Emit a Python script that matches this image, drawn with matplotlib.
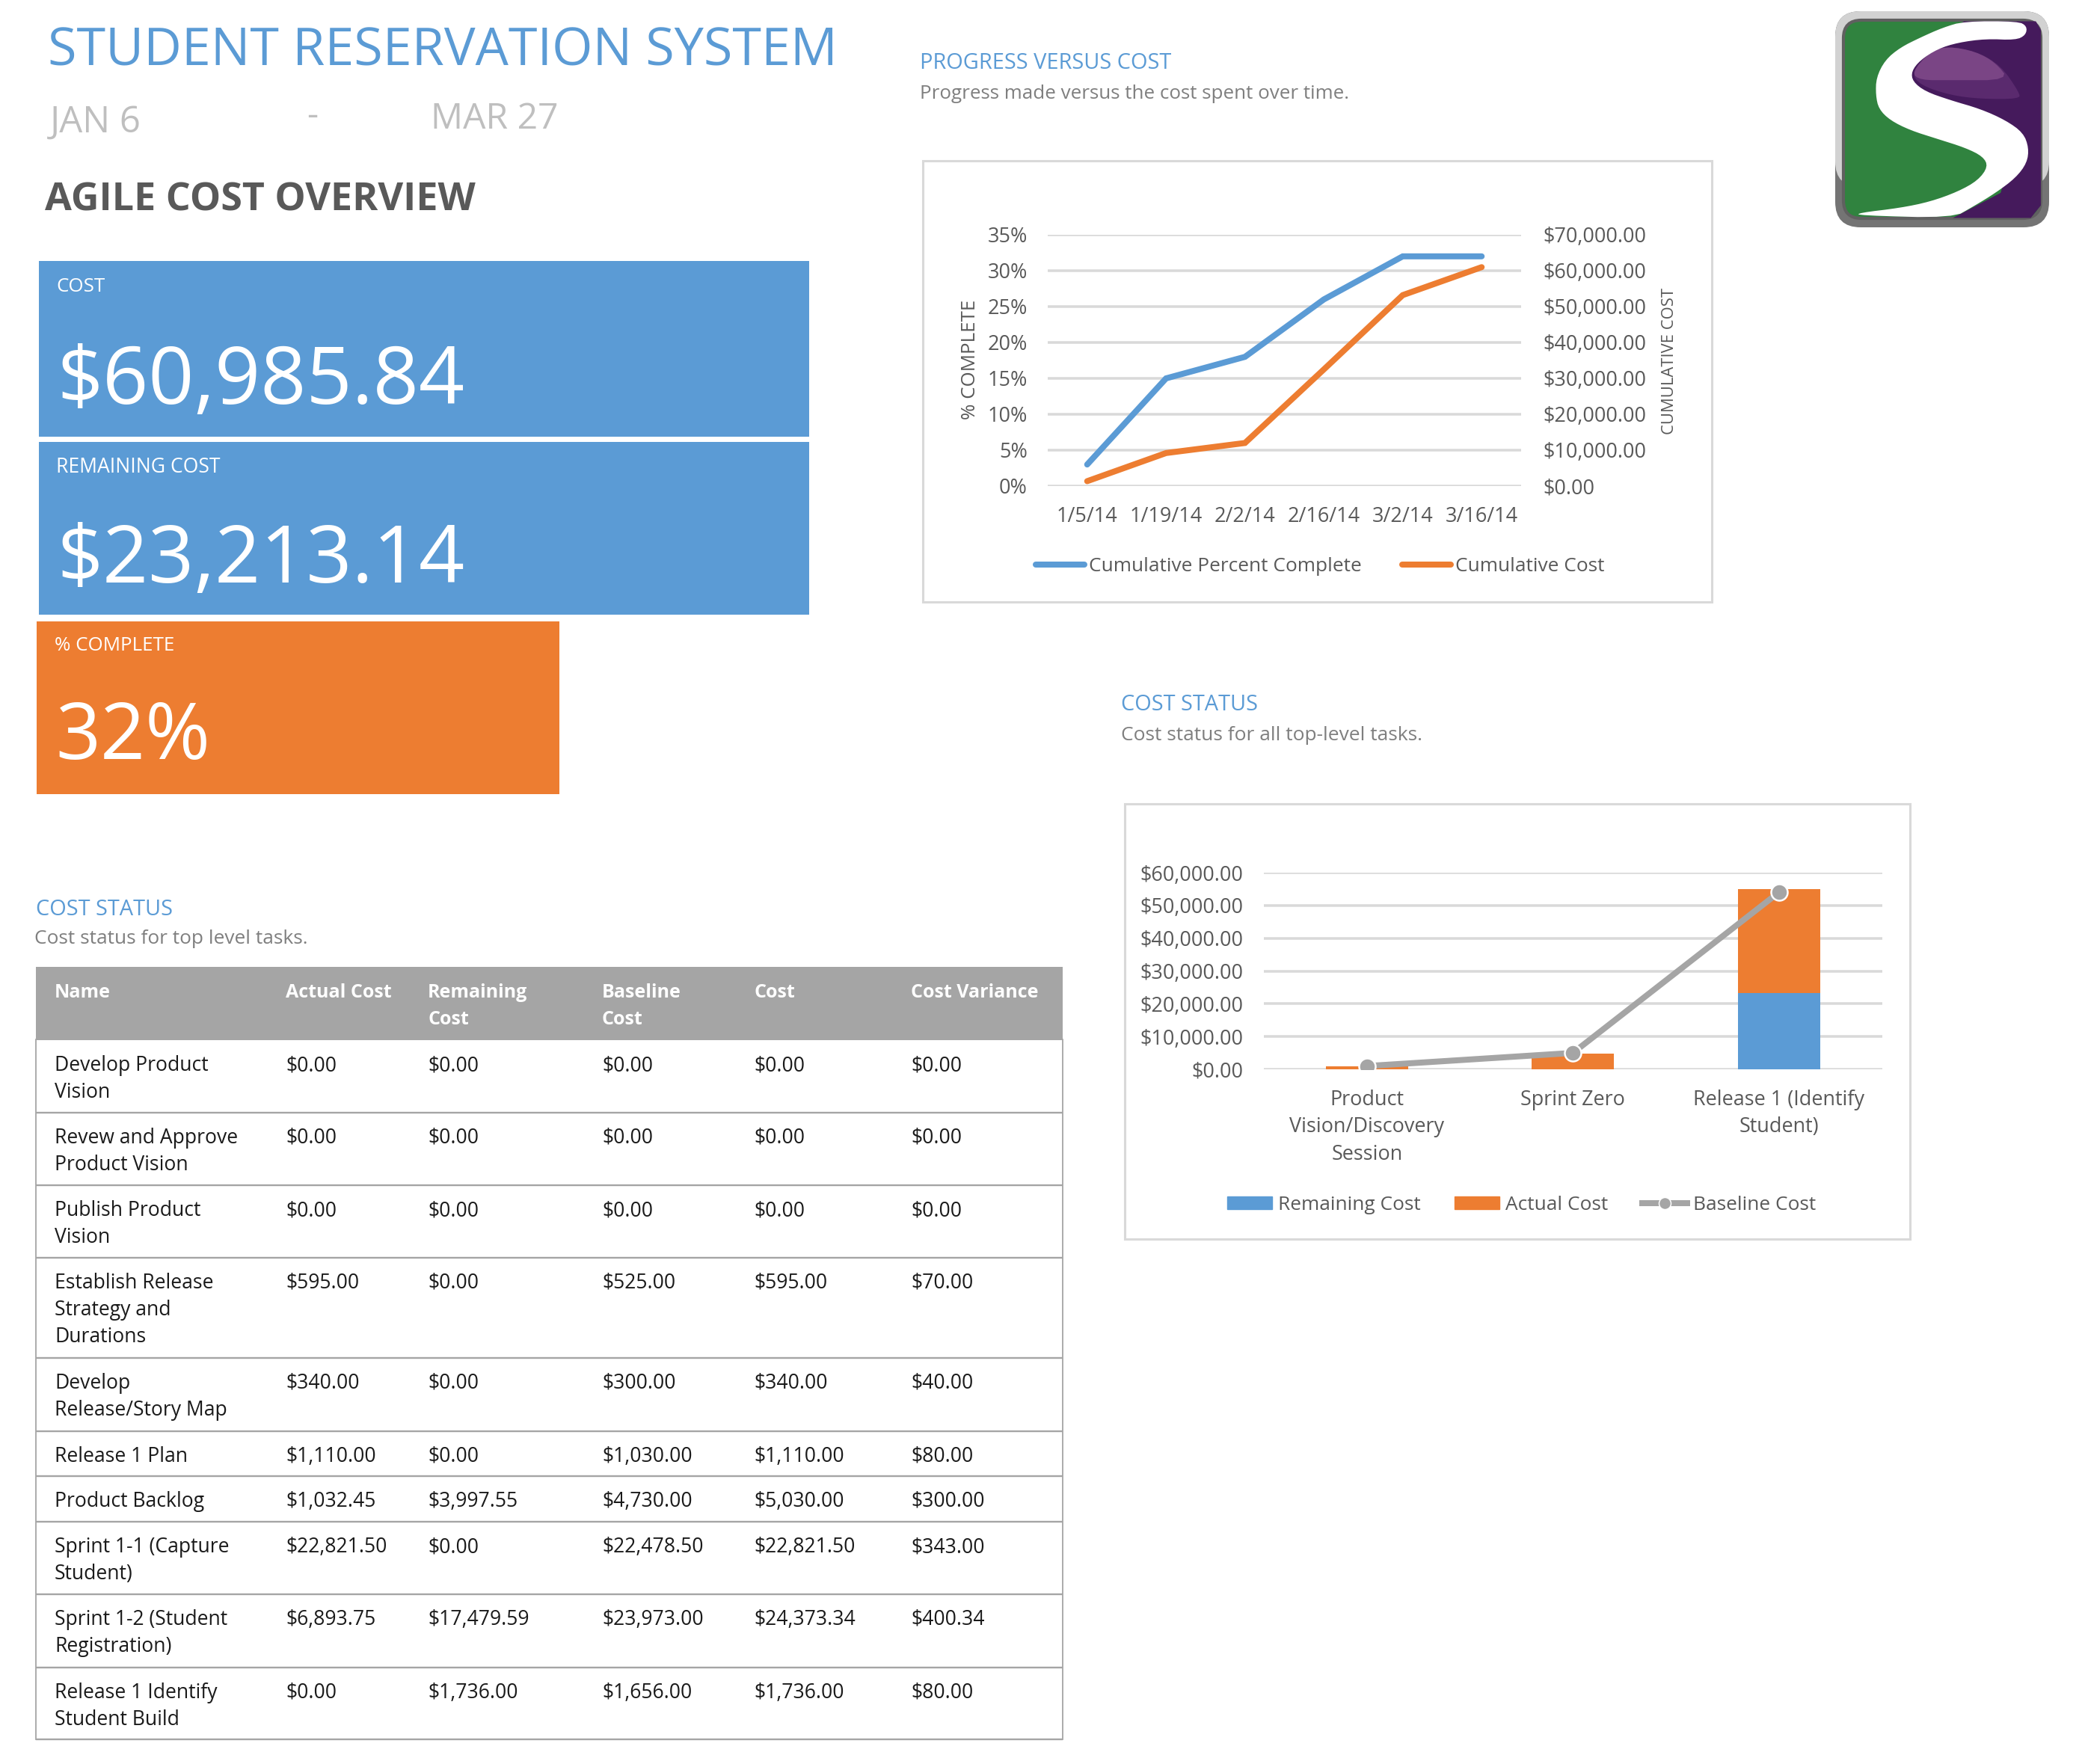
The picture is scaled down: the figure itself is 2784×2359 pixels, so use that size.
import matplotlib
matplotlib.use('Agg')
import matplotlib.pyplot as plt
from matplotlib.lines import Line2D
from matplotlib.patches import FancyBboxPatch, Patch, Polygon, Rectangle

W, H = 2784, 2359
BLUE = '#5b9bd5'
ORANGE = '#ed7d31'
GRAY = '#a5a5a5'
GRID = '#d9d9d9'
TXT = '#595959'

plt.rcParams['font.family'] = ['Open Sans', 'DejaVu Sans']

# chart 1
dates = ['1/5/14', '1/19/14', '2/2/14', '2/16/14', '3/2/14', '3/16/14']
percent_complete = [0.03, 0.15, 0.18, 0.26, 0.32, 0.32]
cumulative_cost = [1360, 9200, 12000, 32500, 53200, 60986]

# chart 2
tasks = ['Product\nVision/Discovery\nSession', 'Sprint Zero', 'Release 1 (Identify\nStudent)']
remaining_cost = [0, 0, 23213]
actual_cost = [1000, 4900, 31800]
baseline_cost = [1000, 5000, 54000]

# table
table_header = ['Name', 'Actual Cost', 'Remaining\nCost', 'Baseline\nCost', 'Cost', 'Cost Variance']
names = ['Develop Product\nVision', 'Revew and Approve\nProduct Vision', 'Publish Product\nVision',
         'Establish Release\nStrategy and\nDurations', 'Develop\nRelease/Story Map', 'Release 1 Plan',
         'Product Backlog', 'Sprint 1-1 (Capture\nStudent)', 'Sprint 1-2 (Student\nRegistration)',
         'Release 1 Identify\nStudent Build']
col_actual = ['$0.00', '$0.00', '$0.00', '$595.00', '$340.00', '$1,110.00', '$1,032.45', '$22,821.50', '$6,893.75', '$0.00']
col_remaining = ['$0.00', '$0.00', '$0.00', '$0.00', '$0.00', '$0.00', '$3,997.55', '$0.00', '$17,479.59', '$1,736.00']
col_baseline = ['$0.00', '$0.00', '$0.00', '$525.00', '$300.00', '$1,030.00', '$4,730.00', '$22,478.50', '$23,973.00', '$1,656.00']
col_cost = ['$0.00', '$0.00', '$0.00', '$595.00', '$340.00', '$1,110.00', '$5,030.00', '$22,821.50', '$24,373.34', '$1,736.00']
col_variance = ['$0.00', '$0.00', '$0.00', '$70.00', '$40.00', '$80.00', '$300.00', '$343.00', '$400.34', '$80.00']

# table layout in pixels
col_x = [73, 382, 572, 805, 1008, 1218]
row_lines = [1391, 1488, 1585, 1682, 1816, 1914, 1974, 2035, 2132, 2230, 2326]

fig = plt.figure(figsize=(W / 100, H / 100), dpi=100, facecolor='white')

# page overlay in pixel coordinates
page = fig.add_axes([0, 0, 1, 1], zorder=0)
page.set_xlim(0, W)
page.set_ylim(H, 0)
page.axis('off')


def px(size):
    return size * 0.72


def put(x, y, s, size, color=TXT, **kw):
    page.text(x, y, s, fontsize=px(size), color=color, va='center', **kw)


def axes_box(left, top, right, bottom):
    return [left / W, 1 - bottom / H, (right - left) / W, (bottom - top) / H]


# headings
put(64, 69, 'STUDENT RESERVATION SYSTEM', 70, BLUE)
put(67, 164, 'JAN 6', 49, '#bfbfbf')
put(410, 155, '-', 47, '#bfbfbf')
put(576, 159, 'MAR 27', 48, '#bfbfbf')
put(60, 268, 'AGILE COST OVERVIEW', 52, TXT, fontweight='bold')

# KPI panels
page.add_patch(Rectangle((52, 349), 1030, 235, color=BLUE, lw=0))
page.add_patch(Rectangle((52, 591), 1030, 231, color=BLUE, lw=0))
page.add_patch(Rectangle((49, 831), 699, 231, color=ORANGE, lw=0))
put(75, 384, 'COST', 26, 'white')
put(76, 512, '$60,985.84', 107, 'white')
put(75, 625, 'REMAINING COST', 26.5, 'white')
put(76, 751, '$23,213.14', 107, 'white')
put(73, 863, '% COMPLETE', 26, 'white')
put(74, 988, '32%', 105, 'white')

# section headings
put(1230, 85, 'PROGRESS VERSUS COST', 29, BLUE)
put(1230, 125, 'Progress made versus the cost spent over time.', 26, '#7f7f7f')
put(1499, 942, 'COST STATUS', 29, BLUE)
put(1499, 984, 'Cost status for all top-level tasks.', 26.4, '#7f7f7f')
put(48, 1216, 'COST STATUS', 29, BLUE)
put(46, 1256, 'Cost status for top level tasks.', 26.3, '#7f7f7f')

# chart frames
page.add_patch(Rectangle((1234, 215), 1055, 590, fc='white', ec=GRID, lw=2.2))
page.add_patch(Rectangle((1504, 1075), 1050, 582, fc='white', ec=GRID, lw=2.2))

# table
page.add_patch(Rectangle((48, 1293), 1373, 98, color=GRAY, lw=0))
for x, head in zip(col_x, table_header):
    for i, line in enumerate(head.split('\n')):
        put(x, 1328 + i * 36, line, 25, 'white', fontweight='bold')
columns = [names, col_actual, col_remaining, col_baseline, col_cost, col_variance]
for x, col in zip(col_x, columns):
    for top, cell in zip(row_lines, col):
        for i, line in enumerate(cell.split('\n')):
            put(x, top + 34 + i * 36, line, 26.5, '#1a1a1a')
for y in row_lines[1:]:
    page.plot([48, 1421], [y, y], color=GRAY, lw=1.7, solid_capstyle='butt')
page.plot([48, 48], [1390, 2326], color=GRAY, lw=1.3)
page.plot([1421, 1421], [1390, 2326], color=GRAY, lw=1.3)


# logo, traced in zoom units
def logo(points, rounds=0):
    # corner cutting to get smooth outlines
    for _ in range(rounds):
        smooth = []
        for i, (x0, y0) in enumerate(points):
            x1, y1 = points[(i + 1) % len(points)]
            smooth.append((0.75 * x0 + 0.25 * x1, 0.75 * y0 + 0.25 * y1))
            smooth.append((0.25 * x0 + 0.75 * x1, 0.25 * y0 + 0.75 * y1))
        points = smooth
    return [(2440 + x * 0.336, y * 0.335) for x, y in points]


page.add_patch(FancyBboxPatch((2454, 15), 286, 289, boxstyle='round,pad=0,rounding_size=34',
                              fc='#747474', lw=0))
page.add_patch(FancyBboxPatch((2454, 15), 286, 235, boxstyle='round,pad=0,rounding_size=34',
                              fc='#d2d2d2', lw=0))
page.add_patch(FancyBboxPatch((2465, 27), 264, 265, boxstyle='round,pad=0,rounding_size=24',
                              fc='#30833f', ec='#606060', lw=3))
page.add_patch(Polygon(logo([(555, 85), (840, 85), (860, 120), (860, 820), (820, 870), (510, 870), (700, 770),
                             (740, 640), (730, 600), (650, 510), (500, 470), (300, 400), (280, 300), (350, 200)]),
                       fc='#451a5c', lw=0))
page.add_patch(Polygon(logo([(345, 290), (420, 205), (490, 185), (600, 205), (700, 260), (775, 370), (775, 395),
                             (620, 395), (500, 380), (380, 340)], 2), fc='#5a2a6e', lw=0))
page.add_patch(Polygon(logo([(345, 290), (420, 205), (490, 185), (600, 205), (680, 250), (735, 320),
                             (500, 320), (380, 320)], 2), fc='#7a4585', lw=0))
page.add_patch(Polygon(logo([(555, 85), (770, 85), (805, 105), (800, 140), (760, 160), (640, 155), (530, 170),
                             (450, 195), (380, 240), (345, 285), (350, 325), (400, 365), (500, 400), (620, 435),
                             (720, 480), (790, 530), (812, 590), (805, 650), (760, 710), (680, 770), (590, 825),
                             (510, 870), (135, 860), (135, 850), (300, 830), (420, 805), (530, 765), (610, 720),
                             (650, 665), (630, 625), (560, 590), (450, 555), (340, 520), (260, 480), (215, 435),
                             (203, 380), (205, 310), (240, 240), (300, 190), (380, 150), (470, 110)], 2),
                       fc='white', lw=0))


def style_axis(ax):
    ax.set_facecolor('none')
    for side in ax.spines:
        ax.spines[side].set_visible(False)
    ax.tick_params(length=0, labelsize=px(27), labelcolor=TXT)


# progress versus cost
ax1 = fig.add_axes(axes_box(1401, 314, 2034, 650), zorder=2)
style_axis(ax1)
x1 = range(len(dates))
ax1.set_xlim(-0.5, 5.5)
ax1.set_ylim(0, 0.35)
ax1.set_yticks([i * 0.05 for i in range(8)])
ax1.set_yticklabels([f'{i * 5}%' for i in range(8)])
ax1.set_xticks(list(x1))
ax1.set_xticklabels(dates)
ax1.tick_params(axis='y', pad=px(27))
ax1.tick_params(axis='x', pad=px(27))
ax1.grid(axis='y', color=GRID, lw=px(3.5))
ax1.set_axisbelow(True)
ax1.plot(x1, percent_complete, color=BLUE, lw=px(8), solid_capstyle='round', solid_joinstyle='miter', zorder=3)
ax1.text(1298, 481, '% COMPLETE', fontsize=px(26), color=TXT, rotation=90, ha='center', va='center',
         transform=page.transData)

ax1b = ax1.twinx()
style_axis(ax1b)
ax1b.set_ylim(0, 70000)
ax1b.set_yticks([i * 10000 for i in range(8)])
ax1b.set_yticklabels([f'${i * 10000:,.2f}' for i in range(8)])
ax1b.tick_params(axis='y', pad=px(29))
ax1b.plot(x1, cumulative_cost, color=ORANGE, lw=px(8), solid_capstyle='round', solid_joinstyle='miter', zorder=3)
ax1b.text(2232, 483, 'CUMULATIVE COST', fontsize=px(22), color=TXT, rotation=90, ha='center', va='center',
          transform=page.transData)

handles1 = [Line2D([], [], color=BLUE, lw=px(8), solid_capstyle='round', label='Cumulative Percent Complete'),
            Line2D([], [], color=ORANGE, lw=px(8), solid_capstyle='round', label='Cumulative Cost')]
fig.legend(handles=handles1, ncol=2, frameon=False, loc='center', bbox_to_anchor=((1384 + 2147) / 2 / W, 1 - 758 / H),
           fontsize=px(26.2), labelcolor=TXT, handlelength=2.45, handletextpad=0.25, columnspacing=2.08, borderpad=0)

# cost status
ax2 = fig.add_axes(axes_box(1690, 1167, 2516.5, 1430), zorder=2)
style_axis(ax2)
x2 = range(len(tasks))
ax2.set_xlim(-0.5, 2.5)
ax2.set_ylim(0, 60000)
ax2.set_yticks([i * 10000 for i in range(7)])
ax2.set_yticklabels([f'${i * 10000:,.2f}' for i in range(7)])
ax2.set_xticks(list(x2))
ax2.set_xticklabels(tasks, linespacing=1.4)
ax2.tick_params(axis='y', pad=px(28))
ax2.tick_params(axis='x', pad=px(27))
ax2.grid(axis='y', color=GRID, lw=px(3.5))
ax2.set_axisbelow(True)
ax2.bar(x2, remaining_cost, width=0.4, color=BLUE, zorder=2)
ax2.bar(x2, actual_cost, width=0.4, bottom=remaining_cost, color=ORANGE, zorder=2)
ax2.plot(x2, baseline_cost, color=GRAY, lw=px(8), marker='o', ms=px(22), mfc=GRAY, mec='white', mew=px(2.5),
         solid_capstyle='round', zorder=3)

handles2 = [Patch(color=BLUE, label='Remaining Cost'), Patch(color=ORANGE, label='Actual Cost'),
            Line2D([], [], color=GRAY, lw=px(8), marker='o', ms=px(16), mfc=GRAY, mec='white', mew=px(1.5),
                   label='Baseline Cost')]
fig.legend(handles=handles2, ncol=3, frameon=False, loc='center', bbox_to_anchor=((1638 + 2431) / 2 / W, 1 - 1611 / H),
           fontsize=px(26.2), labelcolor=TXT, handlelength=2.3, handleheight=0.6, handletextpad=0.3,
           columnspacing=1.74, borderpad=0)

fig.savefig('out.png', dpi=100, facecolor='white')
